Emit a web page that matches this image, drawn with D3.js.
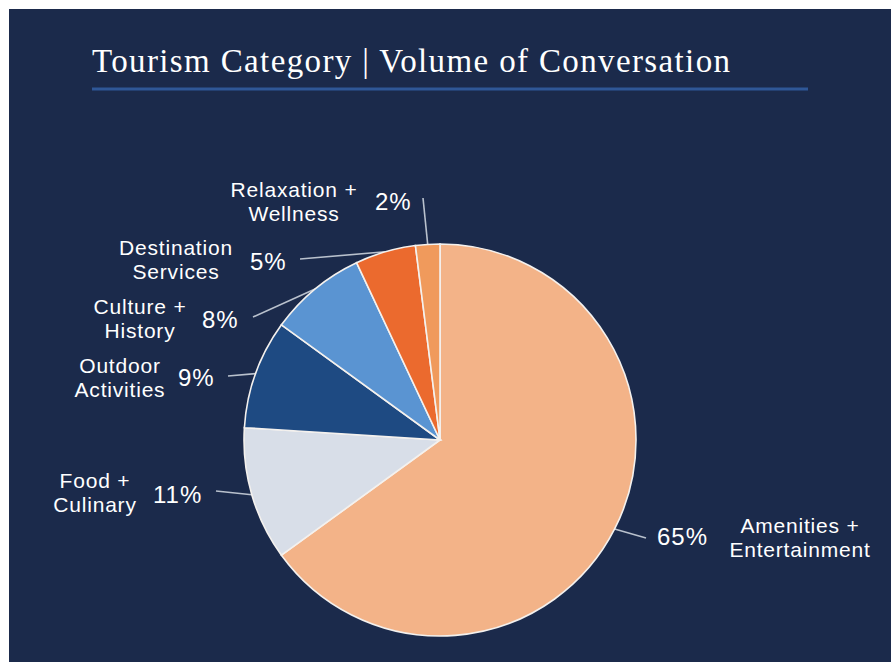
<!DOCTYPE html>
<html>
<head>
<meta charset="utf-8">
<script src="https://cdn.jsdelivr.net/npm/d3@7"></script>
<style>
  body { margin: 0; background: #fff; }
  svg { display: block; }
</style>
</head>
<body>
<svg id="chart"></svg>
<script>
// data
const categories = ["Amenities +\nEntertainment", "Food +\nCulinary", "Outdoor\nActivities",
                    "Culture +\nHistory", "Destination\nServices", "Relaxation +\nWellness"];
const shares = [65, 11, 9, 8, 5, 2];
const colors = ["#f3b388", "#d8dee8", "#1e4a82", "#5a94d2", "#eb6a2e", "#f09a5c"];

// hand placed label anchors (percent text x/baseline, name centre x/first baseline, leader end)
const labelLayout = [
  {px: 657, py: 545, nx: 800, ny: 533, lx: 646, ly: 538},
  {px: 153, py: 503, nx: 95,  ny: 488, lx: 216, ly: 491},
  {px: 178, py: 386, nx: 120, ny: 373, lx: 228, ly: 376},
  {px: 202, py: 328, nx: 140, ny: 314, lx: 253, ly: 317},
  {px: 250, py: 270, nx: 176, ny: 255, lx: 300, ly: 259},
  {px: 375, py: 210, nx: 294, ny: 197, lx: 423, ly: 198}
];

const W = 891, H = 662;
const cx = 440, cy = 440, radius = 196;

const svg = d3.select("#chart").attr("width", W).attr("height", H);

// slide background
svg.append("rect").attr("x", 9).attr("y", 9).attr("width", W - 9).attr("height", H - 9)
   .attr("fill", "#1b2a4b");

// title
svg.append("text")
   .attr("x", 92).attr("y", 72)
   .attr("fill", "#ffffff")
   .attr("font-family", "'Liberation Serif', 'DejaVu Serif', serif")
   .attr("font-size", 33)
   .attr("textLength", 638)
   .text("Tourism Category | Volume of Conversation");

svg.append("line")
   .attr("x1", 92).attr("x2", 808).attr("y1", 89).attr("y2", 89)
   .attr("stroke", "#2f5797").attr("stroke-width", 3);

// pie
const pie = d3.pie().sort(null).value(d => d.value);
const arc = d3.arc().innerRadius(0).outerRadius(radius);
const data = categories.map((c, i) => ({name: c, value: shares[i], color: colors[i], layout: labelLayout[i]}));
const arcs = pie(data);

const g = svg.append("g").attr("transform", `translate(${cx},${cy})`);

// leader lines (drawn under slices)
g.selectAll(".leader")
  .data(arcs)
  .enter()
  .append("line")
    .attr("class", "leader")
    .attr("x1", d => d.data.layout.lx - cx)
    .attr("y1", d => d.data.layout.ly - cy)
    .attr("x2", d => Math.sin((d.startAngle + d.endAngle) / 2) * radius)
    .attr("y2", d => -Math.cos((d.startAngle + d.endAngle) / 2) * radius)
    .attr("stroke", "#b9c1cd")
    .attr("stroke-width", 1.6);

g.selectAll(".slice")
  .data(arcs)
  .enter()
  .append("path")
    .attr("class", "slice")
    .attr("d", arc)
    .attr("fill", d => d.data.color)
    .attr("stroke", "#f4f1ee")
    .attr("stroke-width", 1.6);

// percent labels
svg.selectAll(".pct")
  .data(arcs)
  .enter()
  .append("text")
    .attr("class", "pct")
    .attr("x", d => d.data.layout.px)
    .attr("y", d => d.data.layout.py)
    .attr("fill", "#ffffff")
    .attr("font-family", "'Liberation Sans', Arial, sans-serif")
    .attr("font-size", 24)
    .attr("letter-spacing", 1)
    .text(d => d.data.value + "%");

// category names
const names = svg.selectAll(".name")
  .data(arcs)
  .enter()
  .append("text")
    .attr("class", "name")
    .attr("text-anchor", "middle")
    .attr("fill", "#ffffff")
    .attr("font-family", "'Liberation Sans', Arial, sans-serif")
    .attr("font-size", 21)
    .attr("letter-spacing", 0.8);

names.selectAll("tspan")
  .data(d => d.data.name.split("\n").map(t => ({t, l: d.data.layout})))
  .enter()
  .append("tspan")
    .attr("x", d => d.l.nx)
    .attr("y", (d, i) => d.l.ny + i * 24)
    .text(d => d.t);
</script>
</body>
</html>
